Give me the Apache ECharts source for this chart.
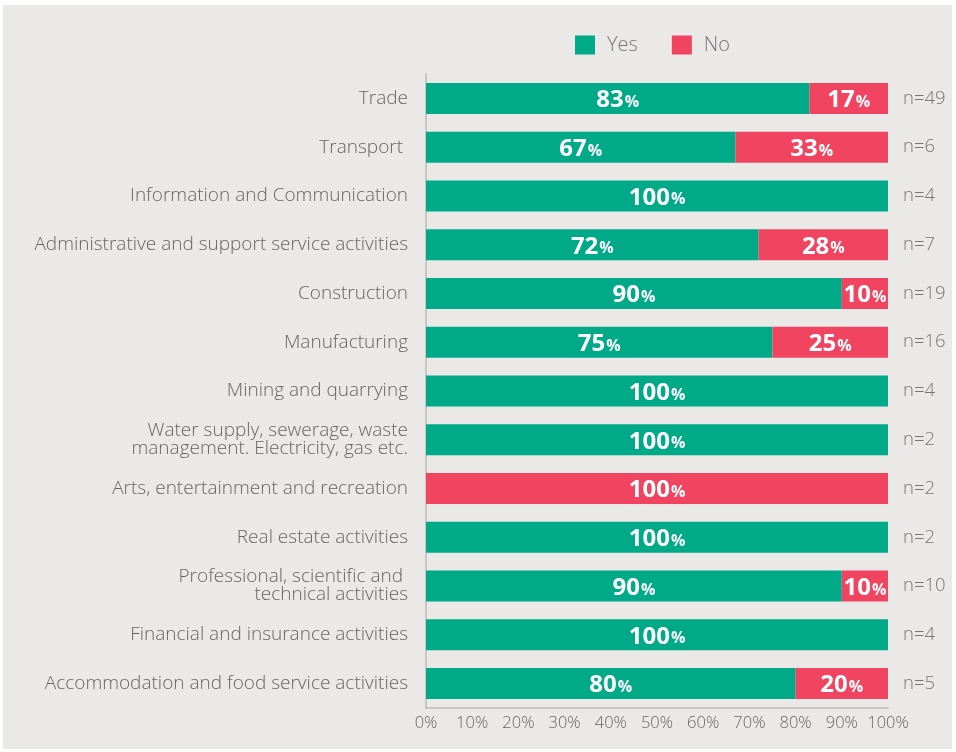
<!DOCTYPE html>
<html>
<head>
<meta charset="utf-8">
<script src="https://cdn.jsdelivr.net/npm/echarts@6/dist/echarts.min.js"></script>
<style>
  html, body { margin: 0; padding: 0; background: #fff; }
  #wrap { position: absolute; left: 3px; top: 5px; width: 949px; height: 744px; background: #EAE9E7; }
  #chart { position: absolute; left: -3px; top: -5px; width: 956px; height: 752px; }
</style>
</head>
<body>
<div id="wrap"><div id="chart"></div></div>
<script>
const categories = [
  "Trade",
  "Transport ",
  "Information and Communication",
  "Administrative and support service activities",
  "Construction",
  "Manufacturing",
  "Mining and quarrying",
  "Water supply, sewerage, waste\nmanagement. Electricity, gas etc.",
  "Arts, entertainment and recreation",
  "Real estate activities",
  "Professional, scientific and \ntechnical activities",
  "Financial and insurance activities",
  "Accommodation and food service activities"
];
const yesValues = [83, 67, 100, 72, 90, 75, 100, 100, 0, 100, 90, 100, 80];
const noValues = [17, 33, 0, 28, 10, 25, 0, 0, 100, 0, 10, 0, 20];
const nLabels = ["n=49", "n=6", "n=4", "n=7", "n=19", "n=16", "n=4", "n=2", "n=2", "n=2", "n=10", "n=4", "n=5"];

const FONT = "Open Sans";
const chart = echarts.init(document.getElementById("chart"));

// label inside each segment, hidden when zero
const segLabel = {
  show: true,
  position: "inside",
  formatter: p => (p.value > 0 ? "{v|" + p.value + "}{p|%}" : ""),
  rich: {
    v: { color: "#fff", fontSize: 24, fontWeight: "bold", fontFamily: FONT, padding: [4, 0, 0, 0] },
    p: { color: "#fff", fontSize: 16, fontWeight: "bold", fontFamily: FONT, padding: [8, 0, 0, 1] }
  }
};

chart.setOption({
  backgroundColor: "transparent",
  animation: false,
  legend: {
    data: ["Yes", "No"],
    left: 570,
    top: 30,
    itemWidth: 20,
    itemHeight: 19,
    itemGap: 34,
    icon: "rect",
    textStyle: { color: "#777", fontSize: 20, fontWeight: 300, fontFamily: FONT, padding: [0, 0, 0, 7] }
  },
  grid: {
    left: 426,
    right: 68,
    top: 74,
    bottom: 44
  },
  xAxis: {
    type: "value",
    min: 0,
    max: 100,
    interval: 10,
    splitLine: { show: false },
    axisTick: { show: false },
    axisLine: { show: true, lineStyle: { color: "#bbb", width: 1.5 } },
    axisLabel: { formatter: "{value}%", color: "#666", fontSize: 16.5, fontWeight: 300, fontFamily: FONT, margin: 7 }
  },
  yAxis: [
    {
      type: "category",
      inverse: true,
      data: categories,
      axisTick: { show: false },
      axisLine: { show: true, lineStyle: { color: "#bbb", width: 1.5 } },
      axisLabel: {
        color: "#666",
        fontSize: 19,
        fontWeight: 300,
        fontFamily: FONT,
        margin: 18,
        lineHeight: 18,
        align: "right",
        padding: [0, 0, 6, 0]
      }
    },
    {
      type: "category",
      inverse: true,
      position: "right",
      data: nLabels,
      axisTick: { show: false },
      axisLine: { show: false },
      axisLabel: { color: "#777", fontSize: 18.5, fontWeight: 300, fontFamily: FONT, margin: 15, align: "left" }
    }
  ],
  series: [
    {
      name: "Yes",
      type: "bar",
      stack: "total",
      barWidth: 31,
      itemStyle: { color: "#00A987" },
      label: segLabel,
      data: yesValues
    },
    {
      name: "No",
      type: "bar",
      stack: "total",
      barWidth: 31,
      itemStyle: { color: "#F04460" },
      label: segLabel,
      data: noValues
    }
  ]
});
</script>
</body>
</html>
